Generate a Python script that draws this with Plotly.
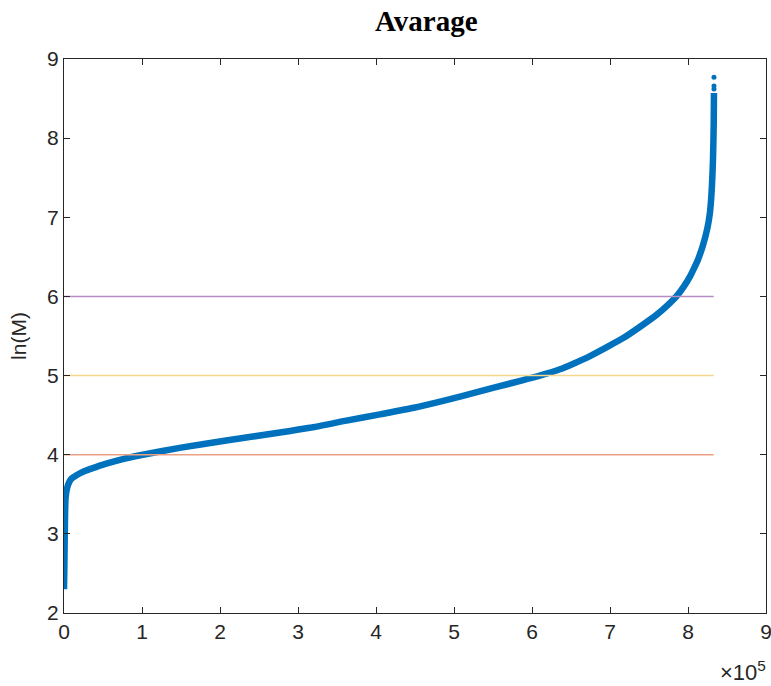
import plotly.graph_objects as go

# Sorted averages, ln(M), against their rank
rank = [0, 500, 1000, 2000, 4000, 7000, 10000, 16000, 26000, 37000, 52000, 78000,
        101000, 150000, 208000, 277000, 315000, 362000, 405000, 447000, 490000,
        533000, 572000, 610000, 636000, 653000, 675000, 696000, 718000, 739000,
        760000, 774000, 786000, 795000, 803000, 808000, 813000, 819000, 825000,
        828000, 830000, 832000, 833000, 833300]
ln_m = [2.30, 2.60, 3.00, 3.45, 3.58, 3.66, 3.70, 3.74, 3.79, 3.83, 3.88, 3.95,
        4.00, 4.09, 4.18, 4.28, 4.34, 4.43, 4.51, 4.59, 4.69,
        4.80, 4.90, 5.00, 5.08, 5.15, 5.25, 5.36, 5.48, 5.62,
        5.77, 5.89, 6.01, 6.13, 6.26, 6.36, 6.47, 6.64, 6.87,
        7.05, 7.28, 7.72, 8.20, 8.57]

# Isolated largest values
top_rank = [833300, 833300, 833300]
top_ln_m = [8.62, 8.66, 8.77]

# Threshold levels
levels = [4, 5, 6]
level_colors = ["#EBA084", "#F4D68C", "#B98DC4"]
level_end = 833000

x_ticks = [i * 100000 for i in range(10)]
x_tick_text = [str(i) for i in range(10)]
y_ticks = [2, 3, 4, 5, 6, 7, 8, 9]

blue = "#0072BD"
axis_color = "#262626"
sans = "Liberation Sans, Arial, sans-serif"

fig = go.Figure()
fig.add_trace(go.Scatter(x=rank, y=ln_m, mode="lines",
                         line=dict(color=blue, width=6.5, shape="spline", smoothing=0.6),
                         hoverinfo="skip"))
fig.add_trace(go.Scatter(x=top_rank, y=top_ln_m, mode="markers",
                         marker=dict(color=blue, size=5), hoverinfo="skip"))
for lv, col in zip(levels, level_colors):
    fig.add_trace(go.Scatter(x=[0, level_end], y=[lv, lv], mode="lines",
                             line=dict(color=col, width=1.5), hoverinfo="skip"))

axis_common = dict(
    showgrid=False, zeroline=False, showline=True, linecolor=axis_color,
    linewidth=1, mirror="ticks", ticks="inside", ticklen=6, tickwidth=1,
    tickcolor=axis_color, ticklabeloverflow="allow", automargin=False,
    tickfont=dict(family=sans, size=21, color=axis_color),
)

fig.update_layout(
    width=771, height=686,
    margin=dict(l=64, r=5, t=59, b=73),
    paper_bgcolor="white", plot_bgcolor="white",
    showlegend=False,
    xaxis=dict(range=[0, 900000], tickvals=x_ticks, ticktext=x_tick_text, **axis_common),
    yaxis=dict(range=[2, 9], tickvals=y_ticks,
               title=dict(text="ln(M)", standoff=14,
                          font=dict(family=sans, size=21, color=axis_color)),
               **axis_common),
    annotations=[
        dict(text="<b>Avarage</b>", xref="paper", yref="paper",
             x=(426 - 64) / 702, y=1, yshift=20, yanchor="bottom", xanchor="center",
             showarrow=False,
             font=dict(family="Liberation Serif, Times New Roman, serif", size=29,
                       color="black")),
        dict(text="×10<sup>5</sup>", xref="paper", yref="paper",
             x=1, y=0, xanchor="right", yanchor="top", yshift=-42, xshift=2,
             showarrow=False,
             font=dict(family=sans, size=22, color=axis_color)),
    ],
)

fig.write_html("out.html")
